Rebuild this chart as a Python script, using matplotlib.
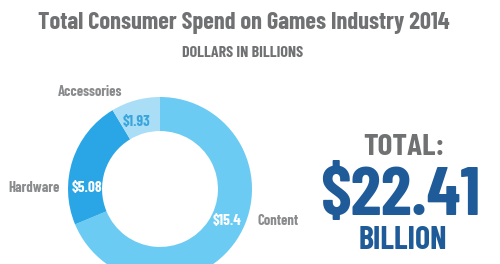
import matplotlib.pyplot as plt

categories = ["Content", "Hardware", "Accessories"]
values = [15.4, 5.08, 1.93]
value_labels = ["$15.4", "$5.08", "$1.93"]
total = 22.41

colors = ["#6ccbf3", "#2aa6e6", "#a9def6"]
value_colors = ["white", "white", "#3aa5dc"]
gray = "#707173"
blue = "#1e5b98"

plt.rcParams["font.family"] = ["Barlow Condensed", "DejaVu Sans"]

fig = plt.figure(figsize=(5, 2.64), dpi=100)

fig.text(0.487, 0.912, "Total Consumer Spend on Games Industry 2014",
         ha="center", va="center", fontsize=17.5, fontweight="bold", color=gray)
fig.text(0.486, 0.80, "DOLLARS IN BILLIONS", ha="center", va="center",
         fontsize=11.5, fontweight="bold", color=gray)

# donut
ax = fig.add_axes([0.136, -0.0644, 0.368, 0.697])
ax.pie(values, colors=colors, startangle=90, counterclock=False,
       wedgeprops=dict(width=0.37, edgecolor="none"))
ax.set_xlim(-1, 1)
ax.set_ylim(-1, 1)
ax.set_aspect("equal")
ax.axis("off")

val_pos = [(0.73, -0.35), (-0.79, 0.01), (-0.26, 0.73)]
cat_pos = [(1.28, -0.35), (-1.37, 0.01), (-0.76, 1.05)]
for i in range(len(categories)):
    ax.text(val_pos[i][0], val_pos[i][1], value_labels[i], ha="center", va="center",
            fontsize=11, fontweight="bold", color=value_colors[i], clip_on=False)
    ax.text(cat_pos[i][0], cat_pos[i][1], categories[i], ha="center", va="center",
            fontsize=10.5, fontweight="bold", color="#8a8b8d", clip_on=False)

# total
fig.text(0.808, 0.44, "TOTAL:", ha="center", va="center", fontsize=22.5,
         fontweight="bold", color=gray)
fig.text(0.8, 0.25, "$%.2f" % total, ha="center", va="center", fontsize=50,
         fontweight="bold", color=blue)
fig.text(0.806, 0.088, "BILLION", ha="center", va="center", fontsize=23,
         fontweight="bold", color=blue)

fig.savefig("out.png", dpi=100, facecolor="white")
